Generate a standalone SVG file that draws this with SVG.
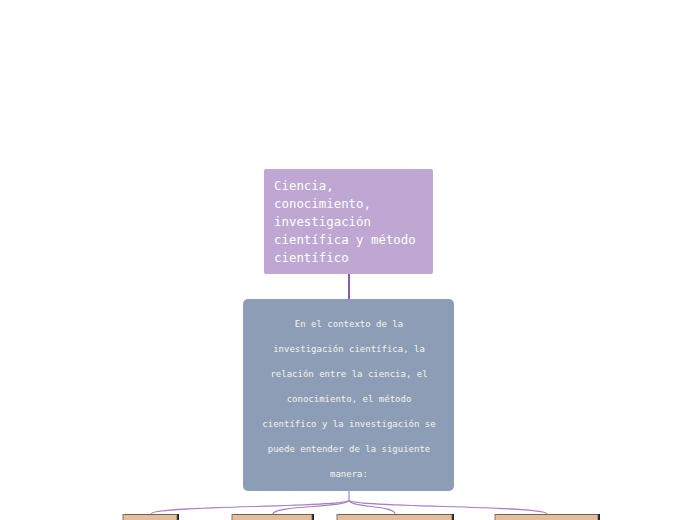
<svg xmlns="http://www.w3.org/2000/svg" width="697" height="520" viewBox="0 0 697 520">
<style>
.t1{font-family:"DejaVu Sans Mono","Liberation Mono",monospace;font-size:12.4px;fill:#ffffff}
.t2{font-family:"DejaVu Sans Mono","Liberation Mono",monospace;font-size:9px;fill:#f4f4f4;text-anchor:middle}
.conn{fill:none;stroke:#a77fcb;stroke-width:1.2}
.sub{fill:#e6be9c;stroke:#6b5a4c;stroke-width:0.8}
.shd{fill:#222}
</style>
<rect width="697" height="520" fill="#ffffff"/>
<g id="connectors">
<path d="M349,274 V299" fill="none" stroke="#8a5ab0" stroke-width="2"/>
<path class="conn" d="M349,491 V500" stroke-width="2" stroke="#8a5ab0"/>
<path class="conn" d="M349,500 C349,508 151,505 151,514"/>
<path class="conn" d="M349,500 C349,508 273,505 273,514"/>
<path class="conn" d="M349,500 C349,508 395,505 395,514"/>
<path class="conn" d="M349,500 C349,508 547,505 547,514"/>
</g>
<g id="node-title">
<rect x="264" y="169" width="169" height="105" rx="2" fill="#c0a6d2"/>
<text class="t1" x="274" y="190">Ciencia,</text>
<text class="t1" x="274" y="208">conocimiento,</text>
<text class="t1" x="274" y="226">investigación</text>
<text class="t1" x="274" y="244">científica y método</text>
<text class="t1" x="274" y="262">científico</text>
</g>
<g id="node-main">
<rect x="243" y="299" width="211" height="192" rx="5" fill="#8c9db5"/>
<text class="t2" x="349" y="327">En el contexto de la</text>
<text class="t2" x="349" y="352">investigación científica, la</text>
<text class="t2" x="349" y="377">relación entre la ciencia, el</text>
<text class="t2" x="349" y="402">conocimiento, el método</text>
<text class="t2" x="349" y="427">científico y la investigación se</text>
<text class="t2" x="349" y="452">puede entender de la siguiente</text>
<text class="t2" x="349" y="477">manera:</text>
</g>
<g id="node-b1">
<rect class="shd" x="125" y="514" width="54" height="12"/>
<rect class="sub" x="123" y="514.4" width="54" height="12"/>
</g>
<g id="node-b2">
<rect class="shd" x="234" y="514" width="80" height="12"/>
<rect class="sub" x="232" y="514.4" width="80" height="12"/>
</g>
<g id="node-b3">
<rect class="shd" x="339" y="514" width="115" height="12"/>
<rect class="sub" x="337" y="514.4" width="115" height="12"/>
</g>
<g id="node-b4">
<rect class="shd" x="497" y="514" width="103" height="12"/>
<rect class="sub" x="495" y="514.4" width="103" height="12"/>
</g>
</svg>
